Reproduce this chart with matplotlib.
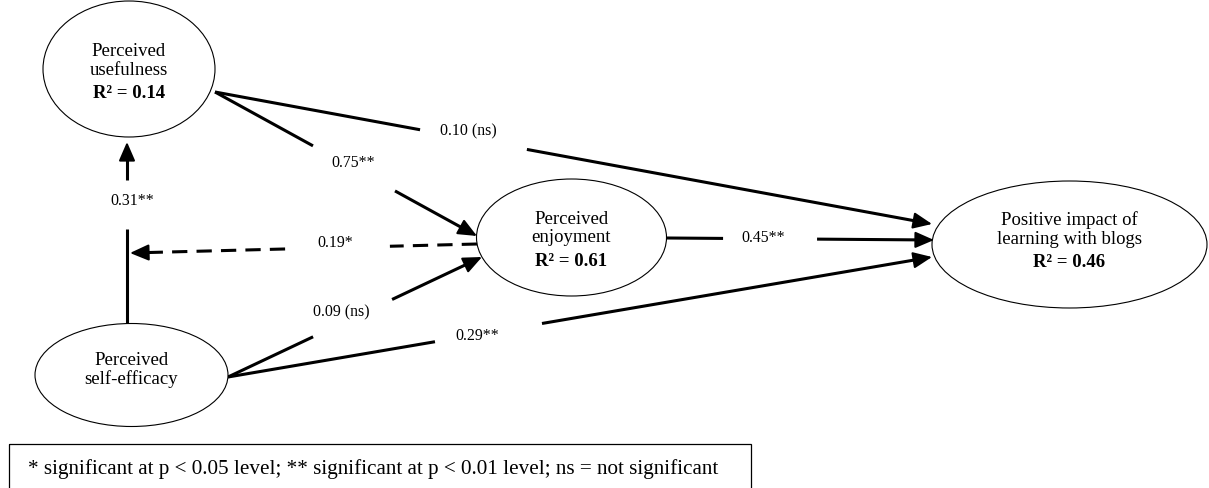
import matplotlib
matplotlib.use("Agg")
import matplotlib.pyplot as plt
from matplotlib.patches import Ellipse, Rectangle
import numpy as np

plt.rcParams['font.family'] = ['Liberation Serif', 'DejaVu Serif']

# constructs and explained variance
constructs = ["usefulness", "self_efficacy", "enjoyment", "impact"]
construct_names = ["Perceived\nusefulness", "Perceived\nself-efficacy",
                   "Perceived\nenjoyment", "Positive impact of\nlearning with blogs"]
r_squared = [0.14, None, 0.61, 0.46]

# structural paths
path_coef = ["0.10 (ns)", "0.75**", "0.19*", "0.31**", "0.09 (ns)", "0.29**", "0.45**"]
path_dashed = [False, False, True, False, False, False, False]

note = "* significant at p < 0.05 level; ** significant at p < 0.01 level; ns = not significant"

# layout (pixel space, y down)
ell_center = {"usefulness": (129, 70), "self_efficacy": (131.5, 376),
              "enjoyment": (571.5, 238.5), "impact": (1069.5, 245.5)}
ell_size = {"usefulness": (172, 136), "self_efficacy": (193, 103),
            "enjoyment": (190, 117), "impact": (275, 127)}
text_offset = {"usefulness": 2, "self_efficacy": -6, "enjoyment": 1, "impact": -5}

# start, arrow tip, gap (fractions along the line), label position
path_geom = [
    ((215, 93), (932, 225), (0.286, 0.435), (468, 131)),
    ((215, 93), (477, 237), (0.374, 0.687), (353, 163)),
    ((477, 245), (130, 254), (0.251, 0.553), (335, 243)),
    ((127, 325), (127, 143), (0.522, 0.791), (132, 201)),
    ((228, 378), (482, 258), (0.335, 0.646), (341, 312)),
    ((228, 378), (932, 258), (0.294, 0.446), (477, 336)),
    ((667, 239), (934, 241), (0.210, 0.562), (763, 238)),
]

fig = plt.figure(figsize=(12.09, 4.89), dpi=100)
ax = fig.add_axes([0, 0, 1, 1])
ax.set_xlim(0, 1209)
ax.set_ylim(489, 0)
ax.axis('off')

for key, name, r2 in zip(constructs, construct_names, r_squared):
    cx, cy = ell_center[key]
    w, h = ell_size[key]
    ax.add_patch(Ellipse((cx, cy), w, h, facecolor='white', edgecolor='black', lw=0.8, zorder=2))
    ty = cy + text_offset[key]
    if r2 is None:
        ax.text(cx, ty, name, ha='center', va='center', fontsize=13.5, linespacing=1.15, zorder=3)
    else:
        ax.text(cx, ty - 11, name, ha='center', va='center', fontsize=13.5, linespacing=1.15, zorder=3)
        ax.text(cx, ty + 22, "R² = %.2f" % r2, ha='center', va='center', fontsize=13.5,
                fontweight='bold', zorder=3)

for coef, dashed, (p0, p1, (f1, f2), lab) in zip(path_coef, path_dashed, path_geom):
    p0 = np.array(p0, float)
    p1 = np.array(p1, float)
    d = p1 - p0
    a = p0 + f1 * d
    b = p0 + f2 * d
    ls = (0, (5, 3)) if dashed else '-'
    ax.plot([p0[0], a[0]], [p0[1], a[1]], color='black', lw=2.2, ls=ls,
            solid_capstyle='butt', dash_capstyle='butt', zorder=1)
    u = d / np.linalg.norm(d)
    head_start = p1 - 12 * u
    ax.plot([b[0], head_start[0]], [b[1], head_start[1]], color='black', lw=2.2, ls=ls,
            solid_capstyle='butt', dash_capstyle='butt', zorder=1)
    ax.annotate('', xy=tuple(p1), xytext=tuple(p1 - 14 * u),
                arrowprops=dict(arrowstyle='-|>,head_length=1.15,head_width=0.5',
                                mutation_scale=10, color='black', lw=1.5,
                                shrinkA=0, shrinkB=0), zorder=4)
    ax.text(lab[0], lab[1], coef, ha='center', va='center', fontsize=11.4, zorder=3)

ax.add_patch(Rectangle((9, 445), 742, 60, facecolor='none', edgecolor='black', lw=0.9))
ax.text(28, 469, note, ha='left', va='center', fontsize=15.2)

fig.savefig("out.png", dpi=100)
